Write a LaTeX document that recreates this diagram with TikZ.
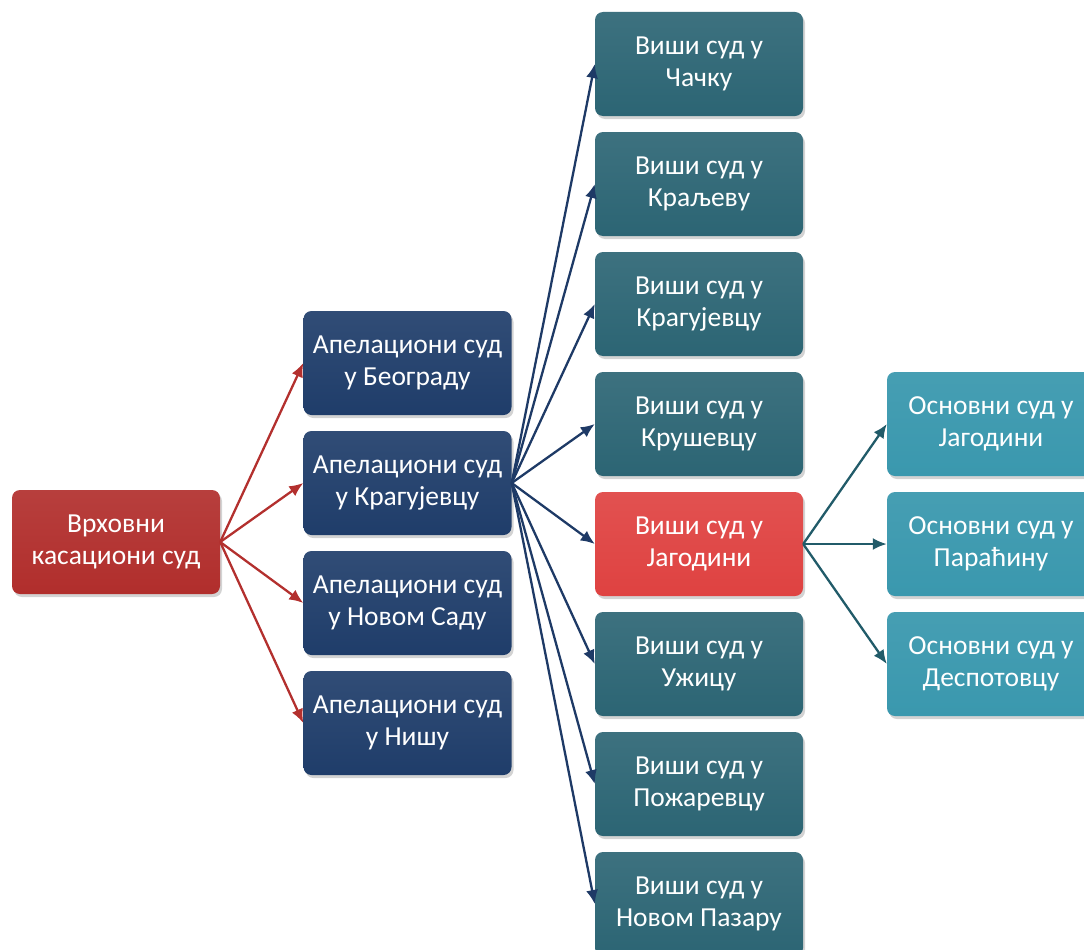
\documentclass[tikz,border=0pt]{standalone}
\usepackage{fontspec}
\setmainfont{Carlito}
\usetikzlibrary{shadows,arrows.meta}
\definecolor{rootred}{HTML}{B12E2C}
\definecolor{navy}{HTML}{1F3D6A}
\definecolor{teal}{HTML}{2C6574}
\definecolor{hired}{HTML}{DF4241}
\definecolor{lteal}{HTML}{3A98AE}
\definecolor{arrred}{HTML}{B3302E}
\definecolor{arrnavy}{HTML}{1E3A66}
\definecolor{arrteal}{HTML}{215B69}
\tikzset{
  box/.style={rectangle, rounded corners=8pt, minimum width=208pt, minimum height=104pt,
    inner sep=2pt, align=center, text=white, font=\fontsize{27.5}{32}\selectfont,
    drop shadow={opacity=0.35, shadow xshift=2pt, shadow yshift=-3pt}},
  rootbox/.style={box, top color=rootred!92!white, bottom color=rootred},
  apbox/.style={box, top color=navy!92!white, bottom color=navy},
  visbox/.style={box, top color=teal!92!white, bottom color=teal},
  hibox/.style={box, top color=hired!92!white, bottom color=hired},
  osbox/.style={box, top color=lteal!94!white, bottom color=lteal},
  conn/.style={line width=2.3pt, -{Latex[length=14pt,width=12pt]}},
}
\begin{document}
\begin{tikzpicture}[x=1pt,y=-1pt]
\useasboundingbox (0,0) rectangle (1084,950);
\clip (0,0) rectangle (1084,950);
\node[rootbox] (root) at (116,542) {Врховни\\касациони суд};
\node[apbox] (a1) at (407.5,363) {Апелациони суд\\у Београду};
\node[apbox] (a2) at (407.5,483) {Апелациони суд\\у Крагујевцу};
\node[apbox] (a3) at (407.5,603) {Апелациони суд\\у Новом Саду};
\node[apbox] (a4) at (407.5,723) {Апелациони суд\\у Нишу};
\node[visbox] (v1) at (699,64) {Виши суд у\\Чачку};
\node[visbox] (v2) at (699,184) {Виши суд у\\Краљеву};
\node[visbox] (v3) at (699,304) {Виши суд у\\Крагујевцу};
\node[visbox] (v4) at (699,424) {Виши суд у\\Крушевцу};
\node[hibox] (v5) at (699,544) {Виши суд у\\Јагодини};
\node[visbox] (v6) at (699,664) {Виши суд у\\Ужицу};
\node[visbox] (v7) at (699,784) {Виши суд у\\Пожаревцу};
\node[visbox] (v8) at (699,904) {Виши суд у\\Новом Пазару};
\node[osbox] (o1) at (991,424) {Основни суд у\\Јагодини};
\node[osbox] (o2) at (991,544) {Основни суд у\\Параћину};
\node[osbox] (o3) at (991,664) {Основни суд у\\Деспотовцу};
\foreach \t in {a1,a2,a3,a4}
  \draw[conn, arrred] (root.east) -- (\t.west);
\foreach \t in {v1,v2,v3,v4,v5,v6,v7,v8}
  \draw[conn, arrnavy] (a2.east) -- (\t.west);
\foreach \t in {o1,o2,o3}
  \draw[conn, arrteal] (v5.east) -- (\t.west);
\end{tikzpicture}
\end{document}
